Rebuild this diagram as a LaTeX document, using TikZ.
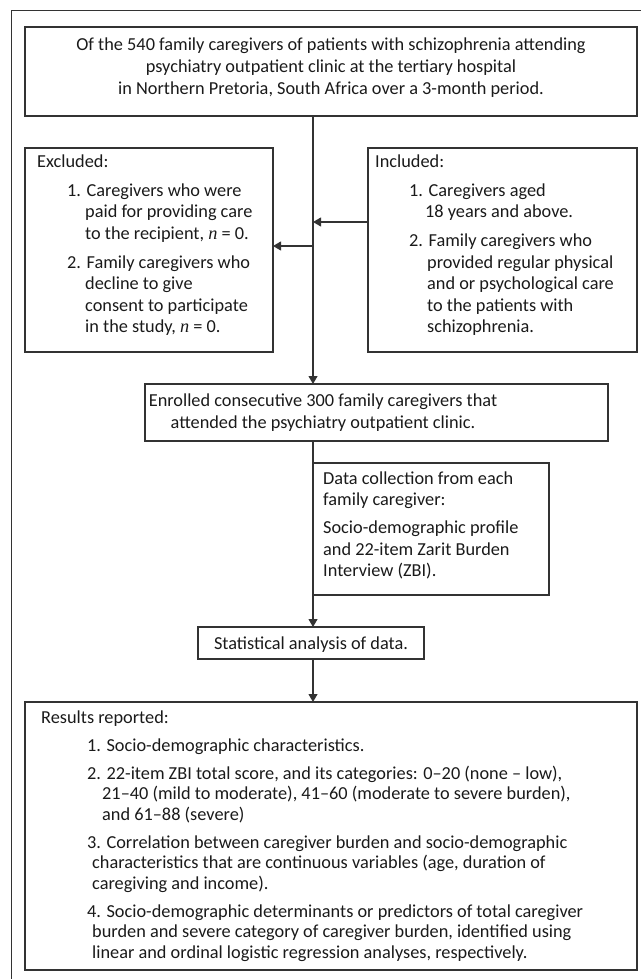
\documentclass[tikz,border=0pt]{standalone}
\usepackage{fontspec}
\setmainfont{Carlito}
\newfontfamily\serifn{Liberation Serif}
\usetikzlibrary{arrows.meta}
\newcommand{\nn}{{\serifn\itshape n}}
\definecolor{ln}{HTML}{333333}
\definecolor{tx}{HTML}{1A1A1A}
\begin{document}
\begin{tikzpicture}[x=1pt,y=-1pt,
  box/.style={draw=ln, line width=1.3pt, inner sep=0pt, outer sep=0pt, anchor=north west},
  txt/.style={anchor=base west, inner sep=0pt, text=tx, font=\fontsize{18.3}{21.5}\selectfont},
  ctxt/.style={txt, anchor=base},
  conn/.style={draw=ln, line width=1.1pt},
  arr/.style={conn, -{Triangle[length=8pt,width=9pt]}}]
\useasboundingbox (0,0) rectangle (641,979);
% outer frame (cropped)
\draw[draw=ln, line width=1pt] (11,979) -- (11,11) -- (641,11);

% boxes
\node[box, minimum width=612pt, minimum height=89pt] (topbox) at (25,27) {};
\node[box, minimum width=248pt, minimum height=204pt] (excl) at (25,148) {};
\node[box, minimum width=269pt, minimum height=204pt] (incl) at (368,148) {};
\node[box, minimum width=463pt, minimum height=57pt] (enrol) at (145,384) {};
\node[box, minimum width=236pt, minimum height=132pt] (data) at (313,463) {};
\node[box, minimum width=226pt, minimum height=32pt] (stat) at (198,627) {};
\node[box, minimum width=612pt, minimum height=268pt] (res) at (25,702) {};

% top box text
\node[ctxt] (t1) at (331,51) {Of the 540 family caregivers of patients with schizophrenia attending};
\node[ctxt] (t2) at (331,73) {psychiatry outpatient clinic at the tertiary hospital};
\node[ctxt] (t3) at (331,95) {in Northern Pretoria, South Africa over a 3-month period.};

% excluded
\node[txt] (e0) at (37,167) {Excluded:};
\node[txt] (e1) at (67,196) {1. Caregivers who were};
\node[txt] (e2) at (85,217.5) {paid for providing care};
\node[txt] (e3) at (85,239) {to the recipient, \nn{} = 0.};
\node[txt] (e4) at (67,268) {2. Family caregivers who};
\node[txt] (e5) at (85,289.5) {decline to give};
\node[txt] (e6) at (85,311) {consent to participate};
\node[txt] (e7) at (85,332.5) {in the study, \nn{} = 0.};

% included
\node[txt] (i0) at (375,167) {Included:};
\node[txt] (i1) at (409,196) {1. Caregivers aged};
\node[txt] (i2) at (425,217.5) {18 years and above.};
\node[txt] (i3) at (409,246.5) {2. Family caregivers who};
\node[txt] (i4) at (427,268) {provided regular physical};
\node[txt] (i5) at (427,289.5) {and or psychological care};
\node[txt] (i6) at (427,311) {to the patients with};
\node[txt] (i7) at (427,332.5) {schizophrenia.};

% enrolled
\node[ctxt] (n1) at (323,406) {Enrolled consecutive 300 family caregivers that};
\node[ctxt] (n2) at (323,428) {attended the psychiatry outpatient clinic.};

% data collection
\node[txt] (d1) at (323,484) {Data collection from each};
\node[txt] (d2) at (323,505.5) {family caregiver:};
\node[txt] (d3) at (323,533.5) {Socio-demographic profile};
\node[txt] (d4) at (323,555) {and 22-item Zarit Burden};
\node[txt] (d5) at (323,576.5) {Interview (ZBI).};

% statistical
\node[ctxt] (s1) at (311,649) {Statistical analysis of data.};

% results
\node[txt] (r0) at (41,723) {Results reported:};
\node[txt] (r1) at (87,751) {1. Socio-demographic characteristics.};
\node[txt] (r2) at (87,779) {2. 22-item ZBI total score, and its categories: 0--20 (none -- low),};
\node[txt] (r3) at (102,799.5) {21--40 (mild to moderate), 41--60 (moderate to severe burden),};
\node[txt] (r4) at (102,820) {and 61--88 (severe)};
\node[txt] (r5) at (87,848) {3. Correlation between caregiver burden and socio-demographic};
\node[txt] (r6) at (92,868.5) {characteristics that are continuous variables (age, duration of};
\node[txt] (r7) at (92,889) {caregiving and income).};
\node[txt] (r8) at (87,917) {4. Socio-demographic determinants or predictors of total caregiver};
\node[txt] (r9) at (92,937.5) {burden and severe category of caregiver burden, identified using};
\node[txt] (r10) at (92,958) {linear and ordinal logistic regression analyses, respectively.};

% connectors
\coordinate (spine) at (313,0);
\coordinate (ya) at (0,222);
\coordinate (yb) at (0,246);
\draw[arr] (spine |- topbox.south) -- (spine |- enrol.north);
\draw[arr] (incl.west |- ya) -- (spine |- ya);
\draw[arr] (spine |- yb) -- (excl.east |- yb);
\draw[arr] (spine |- enrol.south) -- (spine |- stat.north);
\draw[arr] (spine |- stat.south) -- (spine |- res.north);
\end{tikzpicture}
\end{document}
